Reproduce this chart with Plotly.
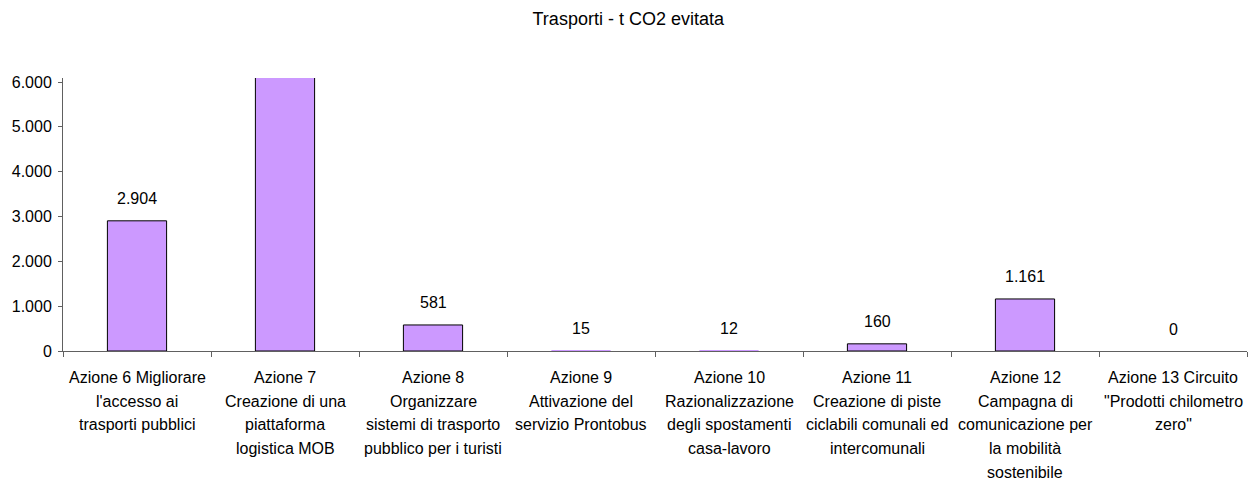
import plotly.graph_objects as go

# Azioni del settore trasporti e tonnellate di CO2 evitate
categorie = [
    "Azione 6 Migliorare<br>l'accesso ai<br>trasporti pubblici",
    "Azione 7<br>Creazione di una<br>piattaforma<br>logistica MOB",
    "Azione 8<br>Organizzare<br>sistemi di trasporto<br>pubblico per i turisti",
    "Azione 9<br>Attivazione del<br>servizio Prontobus",
    "Azione 10<br>Razionalizzazione<br>degli spostamenti<br>casa-lavoro",
    "Azione 11<br>Creazione di piste<br>ciclabili comunali ed<br>intercomunali",
    "Azione 12<br>Campagna di<br>comunicazione per<br>la mobilità<br>sostenibile",
    "Azione 13 Circuito<br>\"Prodotti chilometro<br>zero\"",
]
co2_evitata = [2904, 7000, 581, 15, 12, 160, 1161, 0]

y_max = 6090
y_ticks = [0, 1000, 2000, 3000, 4000, 5000, 6000]

FONT = "Liberation Sans, Arial, sans-serif"
TXT = 16
AXIS_COLOR = "#606060"


def fmt_it(v):
    return f"{v:,}".replace(",", ".")


# bordo solo per le barre abbastanza alte da essere visibili
bordi = [1 if v >= 50 else 0 for v in co2_evitata]

fig = go.Figure()
fig.add_trace(go.Bar(
    x=categorie,
    y=co2_evitata,
    width=0.4,
    marker=dict(color="#CC99FF", line=dict(color="#000000", width=bordi)),
    hoverinfo="x+y",
))

annotations = []
# etichette dei valori sopra le barre (solo quelle entro la scala)
for cat, v in zip(categorie, co2_evitata):
    if v <= y_max:
        annotations.append(dict(
            x=cat, y=v, xref="x", yref="y", text=fmt_it(v),
            showarrow=False, yanchor="middle", yshift=22,
            font=dict(family=FONT, size=TXT, color="#000000"),
        ))
# etichette delle categorie, una riga alla volta
for cat in categorie:
    for i, riga in enumerate(cat.split("<br>")):
        annotations.append(dict(
            x=cat, y=0, xref="x", yref="y", text=riga,
            showarrow=False, yanchor="middle", yshift=-26.5 - 23.7 * i,
            font=dict(family=FONT, size=TXT, color="#000000"),
        ))

fig.update_layout(
    width=1249, height=482,
    margin=dict(l=63, r=2, t=78, b=131),
    paper_bgcolor="#FFFFFF", plot_bgcolor="#FFFFFF",
    separators=",.",
    showlegend=False,
    title=dict(
        text="Trasporti - t CO2 evitata",
        x=0.503, xanchor="center", y=1 - 19 / 482, yanchor="middle",
        font=dict(family=FONT, size=18, color="#000000"),
    ),
    font=dict(family=FONT, size=TXT, color="#000000"),
    annotations=annotations,
)
fig.update_xaxes(
    type="category",
    showticklabels=False,
    tickson="boundaries",
    ticks="outside", ticklen=5, tickcolor=AXIS_COLOR,
    showline=True, linecolor=AXIS_COLOR, linewidth=1,
    showgrid=False, zeroline=False,
    layer="above traces",
)
fig.update_yaxes(
    range=[0, y_max],
    tickvals=y_ticks,
    tickformat=",d",
    ticks="outside", ticklen=4, tickcolor=AXIS_COLOR,
    ticklabelstandoff=3,
    showline=True, linecolor=AXIS_COLOR, linewidth=1,
    showgrid=False, zeroline=False,
    tickfont=dict(family=FONT, size=TXT, color="#000000"),
)

fig.write_html("out.html")
